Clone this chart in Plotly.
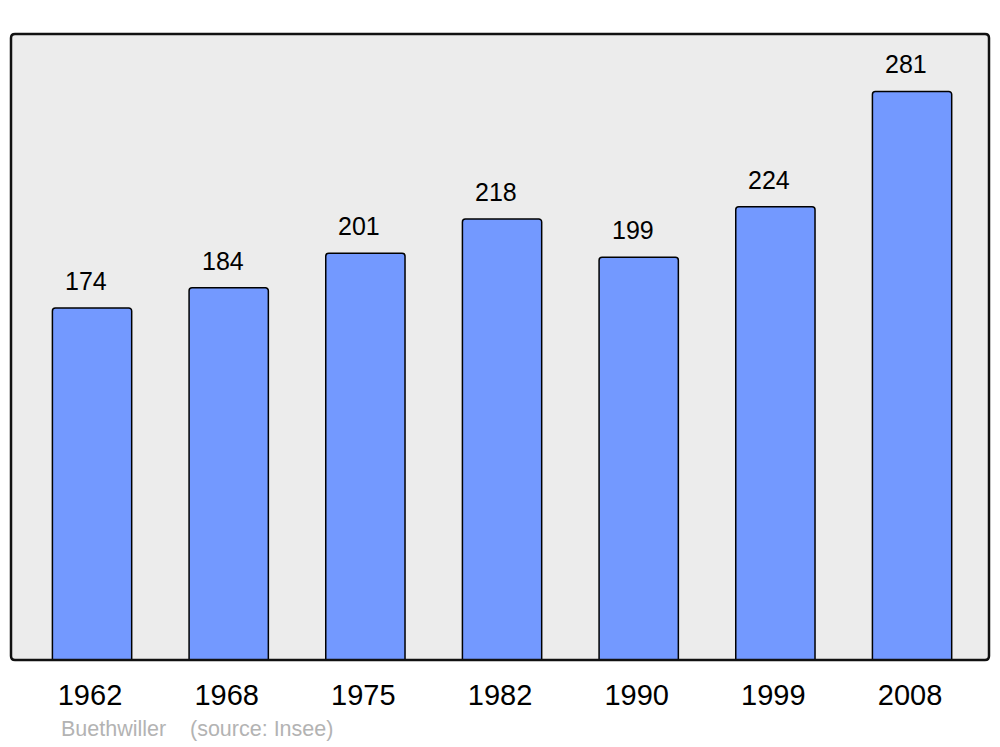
import plotly.graph_objects as go

years = ["1962", "1968", "1975", "1982", "1990", "1999", "2008"]
population = [174, 184, 201, 218, 199, 224, 281]
commune = "Buethwiller"
source = "(source: Insee)"

idx = list(range(len(years)))

fig = go.Figure()
fig.add_trace(go.Bar(
    x=idx, y=population, width=0.58,
    marker=dict(color="#7399ff", line=dict(color="black", width=1.5), cornerradius=3),
    hoverinfo="skip",
))

for i, v in zip(idx, population):
    fig.add_annotation(x=i, y=v, text=str(v), showarrow=False, xshift=-6, yshift=27,
                       yanchor="middle", font=dict(size=25, color="black", family="Liberation Sans"))

fig.add_annotation(xref="paper", yref="paper", x=(59 - 11) / 978, y=(660 - 729) / 626,
                   text=commune, showarrow=False, xanchor="left", yanchor="middle",
                   font=dict(size=21.5, color="#b3b3b3", family="Liberation Sans"))
fig.add_annotation(xref="paper", yref="paper", x=(188 - 11) / 978, y=(660 - 729) / 626,
                   text=source, showarrow=False, xanchor="left", yanchor="middle",
                   font=dict(size=21.5, color="#b3b3b3", family="Liberation Sans"))

# rounded plot border
rx, ry = 4 / 978, 4 / 626
path = (f"M {rx},0 L {1-rx},0 Q 1,0 1,{ry} L 1,{1-ry} Q 1,1 {1-rx},1 "
        f"L {rx},1 Q 0,1 0,{1-ry} L 0,{ry} Q 0,0 {rx},0 Z")
fig.add_shape(type="path", xref="paper", yref="paper", path=path,
              line=dict(color="#111111", width=2.5), layer="above")

fig.update_layout(
    width=1000, height=747,
    margin=dict(l=11, r=11, t=34, b=87),
    paper_bgcolor="white", plot_bgcolor="#ececec",
    showlegend=False,
    font=dict(family="Liberation Sans", color="black"),
    xaxis=dict(range=[-0.593, 6.563], tickvals=[i - 0.015 for i in idx], ticktext=years,
               showgrid=False, zeroline=False, ticks="", tickfont=dict(size=29),
               ticklabelstandoff=15, fixedrange=True),
    yaxis=dict(range=[0, 309.4], showgrid=False, zeroline=False, showticklabels=False,
               ticks="", fixedrange=True),
)

fig.write_html("out.html", config={"displayModeBar": False},
               post_script="document.body.style.margin='0';document.body.style.overflow='hidden';")
